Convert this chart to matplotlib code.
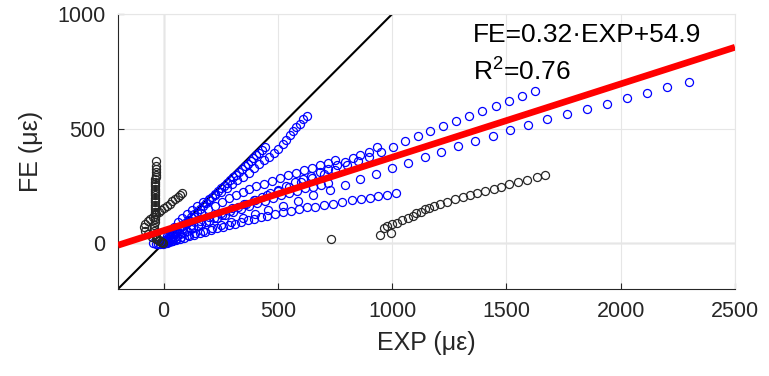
import numpy as np
import matplotlib
matplotlib.use("Agg")
import matplotlib.pyplot as plt
from matplotlib import font_manager

# ---- data (EXP, FE in microstrain) ----
# blue: upper long series
a_exp = [1627, 1568, 1511, 1453, 1395, 1338, 1280, 1221, 1166, 1113, 1058, 1005, 952,
         900, 850, 800, 750, 700, 650, 600, 550, 500, 450, 400, 350, 300, 250, 200,
         160, 120, 80, 50, 25, 5]
a_fe = [664, 643, 621, 599, 577, 555, 534, 510, 489, 466, 444, 420, 398,
        378, 358, 340, 320, 302, 283, 265, 246, 228, 210, 190, 172, 152, 133, 113,
        96, 78, 60, 45, 30, 15]

# blue: lower long series
b_exp = [2297, 2203, 2114, 2026, 1938, 1853, 1764, 1676, 1596, 1516, 1439, 1361, 1286,
         1214, 1142, 1071, 1001, 930, 861, 795, 726, 652, 588, 523, 458, 400, 345, 295,
         250, 210, 170, 135, 105, 78, 55, 35, 18, 5]
b_fe = [704, 681, 657, 634, 609, 586, 563, 540, 515, 492, 468, 445, 422,
        398, 375, 350, 327, 302, 279, 254, 231, 209, 186, 160, 144, 126, 110, 94,
        80, 67, 55, 44, 34, 25, 17, 11, 5, 1]

# blue: lower short series
c_exp = [1015, 976, 940, 904, 865, 825, 782, 739, 700, 664, 628, 592, 556, 520, 487,
         454, 425, 396, 368, 340, 312, 285, 258, 232, 206, 181, 157, 134, 112, 91, 71,
         52, 35, 20, 8]
c_fe = [221, 212, 205, 198, 192, 188, 180, 173, 166, 158, 156, 147, 141, 134, 127,
        118, 112, 106, 99, 92, 85, 78, 71, 64, 57, 50, 43, 36, 30, 24, 18,
        13, 8, 4, 1]

# blue: middle series
d_exp = [933, 897, 861, 829, 794, 757, 720, 683, 646, 610, 573, 537, 500, 465, 430,
         395, 360, 325, 290, 255, 220, 185, 150, 120, 90, 60, 35, 15, 0]
d_fe = [418, 398, 384, 370, 355, 340, 325, 310, 295, 280, 265, 250, 234, 218, 203,
        188, 172, 156, 140, 124, 108, 92, 76, 61, 46, 32, 19, 8, 0]

e3_exp = [750, 717, 685, 650, 615, 580, 545, 510, 475, 440, 405, 375, 345, 315, 285,
          255, 225, 195, 165, 135, 108, 82, 58, 38, 20, 8]
e3_fe = [362, 350, 340, 330, 320, 308, 296, 283, 272, 260, 248, 238, 225, 210, 196,
         180, 164, 147, 130, 112, 94, 76, 57, 40, 24, 10]

g_exp = [720, 688, 652, 617, 582, 547, 512, 477, 442, 407, 372, 337, 302, 267, 232,
         197, 163, 130, 100, 72, 48, 28, 12]
g_fe = [262, 253, 246, 239, 229, 219, 208, 197, 186, 174, 162, 150, 137, 124, 110,
        96, 82, 67, 52, 38, 25, 14, 5]

# blue: steep series close to the 1:1 line
e1_exp = [445, 432, 419, 406, 393, 380, 367, 354, 341, 328, 315, 302, 289, 276, 263,
          250, 237, 224, 211, 198, 185, 172, 159, 146, 133, 120, 107, 94, 81, 68, 55,
          42, 30, 18, 8]
e1_fe = [419, 407, 395, 383, 371, 359, 347, 335, 323, 311, 299, 287, 275, 263, 251,
         239, 227, 214, 201, 188, 176, 163, 151, 138, 126, 113, 101, 88, 76, 63, 51,
         39, 27, 16, 7]

e2_exp = [626, 609, 595, 580, 566, 552, 537, 520, 501, 482, 461, 439, 418, 394, 372,
          347, 323, 299, 275, 251, 225, 199, 173, 148, 125, 103, 82, 62, 44, 28, 15, 6, 0]
e2_fe = [554, 540, 522, 507, 490, 471, 449, 432, 413, 394, 377, 362, 345, 326, 308,
         289, 275, 260, 241, 224, 209, 192, 178, 161, 145, 128, 111, 92, 72, 52, 32, 15, 4]

o_exp = [-45, -35, -25, -15, -5, 5, 15, 25, 35]
o_fe = [0, -2, -4, -3, -2, 0, 2, 5, 8]

# black: right-hand series
k1_exp = [1668, 1632, 1588, 1550, 1512, 1477, 1444, 1408, 1372, 1341, 1308, 1274, 1240,
          1211, 1182, 1161, 1142, 1125, 1106, 1089, 1067, 1045, 1020, 998, 976, 962,
          994, 947, 733]
k1_fe = [297, 287, 275, 265, 256, 246, 236, 227, 219, 211, 202, 192, 180,
         170, 161, 154, 147, 137, 130, 119, 108, 100, 90, 83, 74, 64,
         45, 35, 20]

# black: column left of the origin
k2_exp = [-5, -12, -20, -28, -35, -40, -42, -42, -41, -40, -40, -40, -39, -39, -39, -39,
          -38, -38, -38, -38, -37, -37, -37, -37, -36, -36, -36, -36, -35, -35, -35, -35,
          -35, -35]
k2_fe = [2, 6, 12, 20, 30, 42, 55, 68, 80, 92, 104, 116, 128, 138, 148, 158,
         168, 178, 188, 198, 208, 218, 228, 238, 248, 258, 268, 278, 288, 298, 310, 322,
         336, 358]

# black: branch going up to the right
k3_exp = [-8, -20, -35, -52, -68, -80, -84, -80, -70, -58, -46, -34, -22, -10, 2, 14,
          26, 38, 50, 62, 72, 80]
k3_fe = [3, 10, 18, 28, 40, 55, 70, 84, 96, 106, 116, 126, 136, 146, 155, 164,
         173, 182, 191, 200, 209, 217]

fit_slope = 0.32
fit_icpt = 54.9
xlim = [-200, 2500]
ylim = [-200, 1000]

# ---- fonts ----
names = {f.name for f in font_manager.fontManager.ttflist}
tick_font = "Liberation Sans Narrow" if "Liberation Sans Narrow" in names else "Liberation Sans"
plt.rcParams["font.family"] = ["Liberation Sans", "DejaVu Sans"]
plt.rcParams["mathtext.fontset"] = "custom"
plt.rcParams["mathtext.rm"] = "Liberation Sans"
plt.rcParams["mathtext.it"] = "Liberation Sans"

fig = plt.figure(figsize=(7.69, 3.76), dpi=100)
ax = fig.add_axes([0.1534, 0.2314, 0.8024, 0.7314])

ax.grid(True, color="#e6e6e6", linewidth=0.8, zorder=0)
ax.axhline(0, color="black", linewidth=0.8, zorder=1)
ax.axvline(0, color="black", linewidth=0.8, zorder=1)
ax.plot([-200, 1000], [-200, 1000], color="black", linewidth=1.5, zorder=2)

mk = dict(linestyle="none", marker="o", markersize=5.8, markerfacecolor="none",
          markeredgewidth=0.9, zorder=3)
for xs, ys in [(a_exp, a_fe), (b_exp, b_fe), (c_exp, c_fe), (d_exp, d_fe),
               (e3_exp, e3_fe), (g_exp, g_fe), (e1_exp, e1_fe), (e2_exp, e2_fe),
               (o_exp, o_fe)]:
    ax.plot(xs, ys, markeredgecolor="#0000ff", **mk)
for xs, ys in [(k1_exp, k1_fe), (k2_exp, k2_fe), (k3_exp, k3_fe)]:
    ax.plot(xs, ys, markeredgecolor="#262626", **mk)

fx = np.array(xlim)
ax.plot(fx, fit_slope * fx + fit_icpt, color="#ff0000", linewidth=4.8, zorder=4,
        solid_capstyle="butt")

ax.set_xlim(xlim)
ax.set_ylim(ylim)
ax.set_xticks([0, 500, 1000, 1500, 2000, 2500])
ax.set_yticks([0, 500, 1000])
ax.tick_params(direction="in", length=4, width=0.8, colors="#262626",
               labelsize=15.5, pad=9)
for lab in ax.get_xticklabels() + ax.get_yticklabels():
    lab.set_fontfamily(tick_font)
for s in ["left", "bottom"]:
    ax.spines[s].set_color("#262626")
    ax.spines[s].set_linewidth(0.8)
for s in ["top", "right"]:
    ax.spines[s].set_color("#e6e6e6")
    ax.spines[s].set_linewidth(0.8)

ax.set_xlabel("EXP (\u03bc\u03b5)", fontsize=18, fontfamily=tick_font, color="#262626",
              labelpad=6)
ax.set_ylabel("FE (\u03bc\u03b5)", fontsize=18, fontfamily=tick_font, color="#262626",
              labelpad=10)

ax.text(0.575, 0.897, "FE=0.32\u00b7EXP+54.9", transform=ax.transAxes,
        fontsize=19, va="baseline", ha="left", zorder=5)
ax.text(0.575, 0.756, "R$^{2}$=0.76", transform=ax.transAxes,
        fontsize=19, va="baseline", ha="left", zorder=5)

fig.savefig("out.png", dpi=100)
